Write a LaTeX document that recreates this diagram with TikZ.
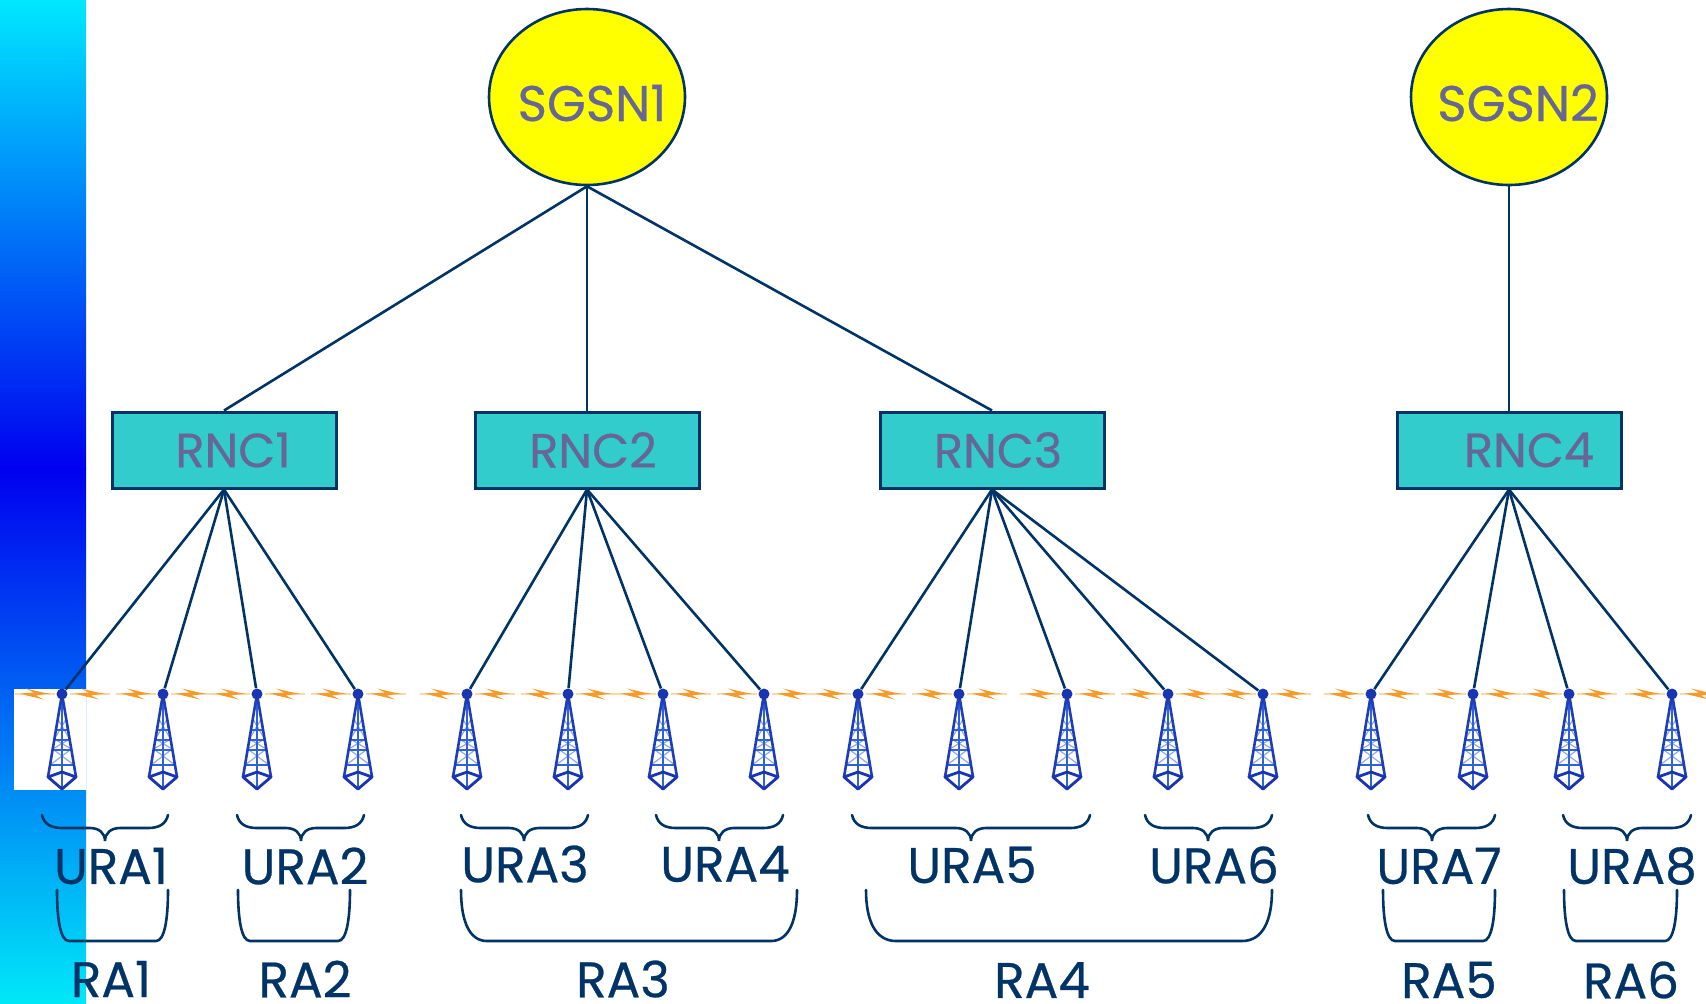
\documentclass[tikz,border=0pt]{standalone}
\usepackage{xcolor}
\usepackage{fontspec}
\setmainfont[FakeBold=0.5]{Poppins}
\usetikzlibrary{shapes.geometric, arrows.meta, positioning}

\definecolor{linkblue}{HTML}{003366}
\definecolor{textgrey}{HTML}{666699}
\definecolor{rnccyan}{HTML}{33CCCC}
\definecolor{sgsnyellow}{HTML}{FFFF00}
\definecolor{mastblue}{HTML}{1A35B0}
\definecolor{mastmid}{HTML}{2F62D8}
\definecolor{mastlight}{HTML}{8FA8EA}
\definecolor{boltorange}{HTML}{F79A2A}

\newcommand{\uracurl}[3]{%
  \draw[curl] (#1,815) .. controls (#1+2,824) and (#1+9,828) .. (#1+20,828) -- (#2-15,828)
    .. controls (#2-6,828) and (#2,833) .. (#2,841)
    .. controls (#2,833) and (#2+6,828) .. (#2+15,828) -- (#3-20,828)
    .. controls (#3-9,828) and (#3-2,824) .. (#3,815);}
\newcommand{\ralimit}[3]{%
  \draw[curl] (#1,890) .. controls (#1,920) and (#1+#3*0.3,941) .. (#1+#3,941) -- (#2-#3,941)
    .. controls (#2-#3*0.3,941) and (#2,920) .. (#2,890);}

\begin{document}
\begin{tikzpicture}[x=0.5pt, y=-0.5pt]

    % Define style for boxes
    \tikzstyle{sgsn} = [ellipse, minimum width=98pt, minimum height=88pt, inner sep=0pt, draw=linkblue, line width=1.3pt, fill=sgsnyellow, text=textgrey, font=\fontsize{25}{25}\selectfont, text height=24pt, text depth=0pt]
    \tikzstyle{rnc} = [rectangle, minimum width=112pt, minimum height=38pt, inner sep=0pt, draw=linkblue, line width=1.5pt, fill=rnccyan, text=textgrey, font=\fontsize{24}{24}\selectfont]
    \tikzstyle{link} = [draw=linkblue, line width=1.3pt]
    \tikzstyle{curl} = [draw=linkblue, line width=1.3pt, line cap=round]
    \tikzstyle{ura} = [inner sep=0pt, text=linkblue, font=\fontsize{25}{25}\selectfont]
    \tikzstyle{mast} = [circle, minimum size=5.5pt, inner sep=0pt, fill=mastblue]

    \clip (0,0) rectangle (1706,1003);
    \fill[white] (0,0) rectangle (1706,1003);

    % Side band
    \fill[top color={rgb,255:red,0;green,232;blue,255}, bottom color={rgb,255:red,0;green,0;blue,240}] (0,0) rectangle (86,468);
    \fill[top color={rgb,255:red,0;green,0;blue,240}, bottom color={rgb,255:red,0;green,232;blue,248}] (0,468) rectangle (86,1003);
    \fill[white] (14,689) rectangle (86,790);

    % Nodes
    \node (sgsn1)[sgsn] at (587,97) {\hspace*{5pt}\makebox[0pt]{SGSN1}};
    \node (sgsn2)[sgsn] at (1509,97) {\hspace*{9pt}\makebox[0pt]{SGSN2}};

    \node (rnc1)[rnc] at (224,450) {\hspace*{9pt}RNC1};
    \node (rnc2)[rnc] at (587,450) {\hspace*{6pt}RNC2};
    \node (rnc3)[rnc] at (992,450) {\hspace*{6pt}RNC3};
    \node (rnc4)[rnc] at (1509,450) {\hspace*{20pt}RNC4};

    % Towers with their radio bolts
    \foreach \x [count=\i] in {62,163,257,358,467,568,663,764,858,959,1067,1168,1263,1371,1473,1569,1672} {
        \begin{scope}[shift={(\x,694)}]
            \foreach \b in {-27,28} {
                \draw[boltorange!40, line width=0.8pt] (\b-20,0) -- (\b+20,0);
                \fill[boltorange] (\b-15,-0.5) -- (\b-1,-1.5) -- (\b-9,-5.5) -- (\b+8,-1.5) -- (\b+15,-0.5) -- (\b+1,1.5) -- (\b+9,5.5) -- (\b-8,1.5) -- cycle;
            }
            \draw[mastlight, line width=0.6pt] (-4.2,25) -- (7.6,45) (4.2,25) -- (-7.6,45) (-7.6,45) -- (9.3,55) (7.6,45) -- (-9.3,55) (-9.3,55) -- (12,71) (9.3,55) -- (-12,71);
            \draw[mastmid, line width=0.9pt] (-6,36) -- (6,36) (-7.6,46) -- (7.6,46) (-10,56) -- (10,56) (-12,71) -- (12,71) (0,0) -- (0,95);
            \draw[mastblue!80!mastmid, line width=1.3pt, line join=round] (-14,83) -- (0,0) -- (14,83);
            \draw[mastblue, line width=1.4pt, line join=round] (-14,83) -- (0,78) -- (14,83) -- (0,95) -- cycle;
            \node (t\i)[mast] at (0,0) {};
        \end{scope}
    }

    % Lines
    \draw[link] (sgsn1.south) -- (rnc1.north);
    \draw[link] (sgsn1.south) -- (rnc2.north);
    \draw[link] (sgsn1.south) -- (rnc3.north);
    \draw[link] (sgsn2.south) -- (rnc4.north);

    \foreach \c/\t in {1/1,1/2,1/3,1/4,2/5,2/6,2/7,2/8,3/9,3/10,3/11,3/12,3/13,4/14,4/15,4/16,4/17}
        \draw[link] (rnc\c.south) -- (t\t);

    % Braces
    \uracurl{42}{105}{168}
    \uracurl{237}{301}{364}
    \uracurl{461}{524}{588}
    \uracurl{656}{719}{783}
    \uracurl{852}{971}{1090}
    \uracurl{1145}{1208}{1272}
    \uracurl{1368}{1432}{1495}
    \uracurl{1563}{1627}{1691}

    \ralimit{57}{168}{12}
    \ralimit{238}{350}{12}
    \ralimit{461}{797}{26}
    \ralimit{866}{1272}{30}
    \ralimit{1383}{1495}{12}
    \ralimit{1564}{1677}{12}

    % Labels
    \node (ura1)[ura] at (111,866) {URA1};
    \node (ura2)[ura] at (305,866) {URA2};
    \node (ura3)[ura] at (525,864) {URA3};
    \node (ura4)[ura] at (725,864) {URA4};
    \node (ura5)[ura] at (972,865) {URA5};
    \node (ura6)[ura] at (1214,865) {URA6};
    \node (ura7)[ura] at (1439,866) {URA7};
    \node (ura8)[ura] at (1632,866) {URA8};

    \node (ra1)[ura] at (111,979) {RA1};
    \node (ra2)[ura] at (305,979) {RA2};
    \node (ra3)[ura] at (623,979) {RA3};
    \node (ra4)[ura] at (1042,980) {RA4};
    \node (ra5)[ura] at (1449,980) {RA5};
    \node (ra6)[ura] at (1631,980) {RA6};

\end{tikzpicture}
\end{document}
